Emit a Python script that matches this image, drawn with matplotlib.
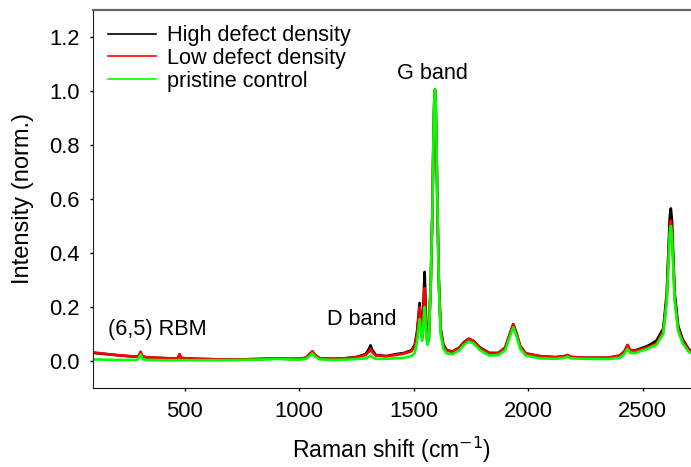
import matplotlib
matplotlib.use("Agg")
import matplotlib.pyplot as plt

plt.rcParams['font.family'] = ['Liberation Sans', 'DejaVu Sans']

# Raman shift (cm^-1)
shift = [100, 150, 200, 250, 290, 300, 308, 316, 330, 400, 460, 472, 478, 484,
         550, 650, 750, 850, 900, 950, 1000, 1030, 1045, 1058, 1070, 1090, 1150,
         1200, 1250, 1290, 1305, 1312, 1320, 1335, 1380, 1420, 1460, 1490, 1505,
         1515, 1526, 1532, 1537, 1542, 1548, 1554, 1560, 1566, 1575, 1582, 1586, 1590,
         1593, 1596, 1600, 1604, 1610, 1618, 1630, 1645, 1670, 1700, 1720, 1740, 1760,
         1790, 1830, 1870, 1900, 1920, 1935, 1950, 1965, 1990, 2050, 2120, 2160,
         2172, 2185, 2250, 2350, 2400, 2420, 2434, 2445, 2470, 2520, 2560, 2590,
         2605, 2612, 2618, 2623, 2628, 2634, 2640, 2655, 2675, 2700, 2715]

high_defect = [.030, .026, .022, .018, .016, .020, .032, .018, .014, .011, .009, .012, .024, .011,
               .008, .006, .006, .008, .010, .008, .008, .012, .025, .035, .022, .010, .008,
               .010, .015, .025, .045, .058, .040, .022, .018, .025, .030, .040, .060,
               .110, .215, .140, .088, .200, .330, .160, .070, .080, .300, .560, .800, .960,
               1.005, .960, .780, .560, .300, .120, .060, .040, .035, .050, .070, .082, .075,
               .050, .030, .030, .050, .100, .136, .100, .055, .028, .018, .014, .018,
               .022, .015, .012, .012, .020, .035, .058, .040, .040, .055, .075, .120,
               .250, .400, .530, .565, .520, .380, .250, .130, .080, .045, .035]

low_defect = [.032, .027, .022, .019, .016, .020, .034, .018, .014, .011, .009, .012, .026, .011,
              .008, .006, .006, .008, .010, .008, .008, .012, .025, .036, .022, .010, .008,
              .010, .014, .022, .035, .045, .032, .020, .018, .022, .028, .036, .055,
              .100, .200, .130, .085, .170, .270, .140, .065, .080, .300, .560, .800, .960,
              1.005, .960, .780, .560, .290, .110, .055, .038, .034, .048, .068, .082, .075,
              .048, .028, .028, .050, .100, .136, .100, .055, .028, .018, .014, .018,
              .022, .015, .012, .012, .020, .035, .060, .040, .038, .050, .065, .110,
              .230, .370, .490, .520, .480, .350, .230, .120, .075, .042, .033]

pristine = [.006, .005, .004, .004, .004, .010, .024, .008, .004, .003, .003, .003, .004, .003,
            .003, .003, .004, .006, .008, .006, .005, .008, .018, .028, .016, .006, .004,
            .005, .007, .010, .016, .020, .014, .008, .008, .010, .012, .018, .030,
            .070, .155, .110, .075, .130, .200, .110, .060, .080, .300, .560, .800, .960,
            1.007, .965, .790, .570, .280, .100, .045, .028, .025, .040, .060, .072, .066,
            .040, .020, .022, .040, .090, .125, .090, .045, .020, .010, .008, .012,
            .016, .010, .008, .007, .012, .025, .045, .030, .030, .045, .060, .100,
            .220, .350, .470, .500, .465, .340, .220, .110, .065, .035, .028]

series = [("High defect density", high_defect, "#000000"),
          ("Low defect density", low_defect, "#ff0000"),
          ("pristine control", pristine, "#00ff00")]

x_ticks = [500, 1000, 1500, 2000, 2500]
y_ticks = [0.0, 0.2, 0.4, 0.6, 0.8, 1.0, 1.2]

fig = plt.figure(figsize=(6.91, 4.67), dpi=100)
ax = fig.add_axes([93/691, 79/467, 1 - 93/691, (388-10)/467])

for label, vals, col in series:
    ax.plot(shift, vals, color=col, lw=1.9, label=label, solid_joinstyle='round')

ax.set_xlim(100, 2711)
ax.set_ylim(-0.1, 1.3)
ax.set_xticks(x_ticks)
ax.set_xticklabels([str(t) for t in x_ticks])
ax.set_yticks(y_ticks)
ax.set_yticklabels([f"{t:.1f}" for t in y_ticks])
ax.tick_params(axis='both', direction='out', length=2.5, width=1, labelsize=15.8, pad=7)

ax.spines['right'].set_visible(False)
ax.spines['top'].set_color('#666666')
ax.spines['top'].set_linewidth(1.6)
ax.spines['left'].set_color('#222222')
ax.spines['bottom'].set_color('#111111')

ax.set_xlabel("Raman shift (cm$^{-1}$)", fontsize=16.5, labelpad=9)
ax.set_ylabel("Intensity (norm.)", fontsize=17, labelpad=11)

ax.text(164, 0.118, "(6,5) RBM", fontsize=15.6, ha='left', va='center')
ax.text(1273, 0.155, "D band", fontsize=15.6, ha='center', va='center')
ax.text(1583, 1.066, "G band", fontsize=15.6, ha='center', va='center')

leg = ax.legend(loc='upper left', bbox_to_anchor=(0.0, 1.0), frameon=False,
                fontsize=15.6, handlelength=2.2, handletextpad=0.5,
                labelspacing=0.08, borderaxespad=0.35, borderpad=0.35)
for h in leg.get_lines():
    h.set_linewidth(1.2)

fig.savefig("out.png", dpi=100)
